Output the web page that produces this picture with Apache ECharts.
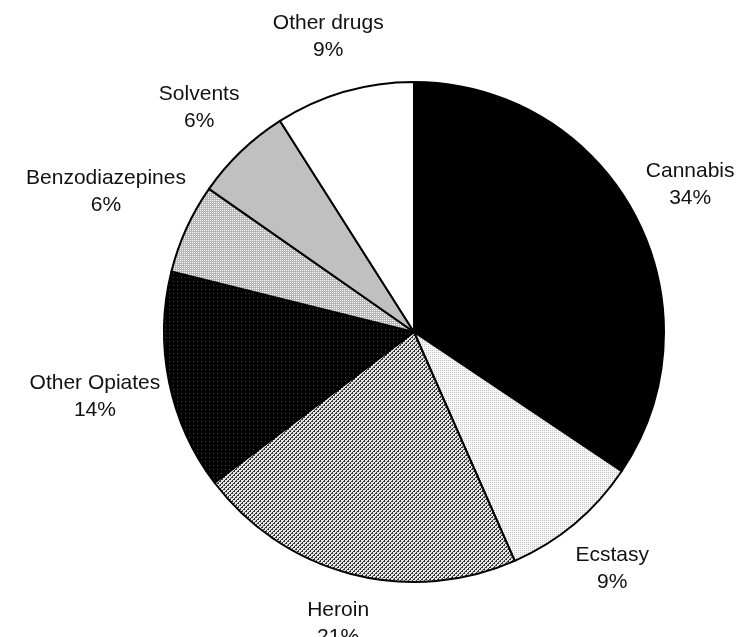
<!DOCTYPE html>
<html>
<head>
<meta charset="utf-8">
<script src="https://cdn.jsdelivr.net/npm/echarts@6/dist/echarts.min.js"></script>
<style>
  html, body { margin: 0; padding: 0; background: #fff; }
  #chart { width: 736px; height: 637px; }
</style>
</head>
<body>
<div id="chart"></div>
<script>
// slices, clockwise from 12 o'clock
const categories = ['Cannabis', 'Ecstasy', 'Heroin', 'Other Opiates', 'Benzodiazepines', 'Solvents', 'Other drugs'];
const shares = [34.4, 9.0, 21.3, 14.2, 5.8, 6.3, 9.0];

const CX = 414, CY = 332, R = 250;

// tiny bitmap fills, like the old monochrome print patterns
function pattern(size, pick) {
  const cv = document.createElement('canvas');
  cv.width = size; cv.height = size;
  const ctx = cv.getContext('2d');
  for (let y = 0; y < size; y++) {
    for (let x = 0; x < size; x++) {
      ctx.fillStyle = pick(x, y);
      ctx.fillRect(x, y, 1, 1);
    }
  }
  return { image: cv, repeat: 'repeat' };
}

const fills = [
  '#000000',
  pattern(2, (x, y) => (x === 0 && y === 0 ? '#c4c4c4' : '#f8f8f8')),
  pattern(4, (x, y) => ((x + y) % 4 < 2 && !(x % 2 === 1 && y % 2 === 0) ? '#333333' : '#e6e6e6')),
  pattern(4, (x, y) => (x === 1 && y === 1 ? '#474747' : '#000000')),
  pattern(2, (x, y) => (x === 0 && y === 0 ? '#ffffff' : '#b6b6b6')),
  '#c0c0c0',
  '#ffffff'
];

const total = shares.reduce((a, b) => a + b, 0);

const chart = echarts.init(document.getElementById('chart'), null, { renderer: 'canvas' });

chart.setOption({
  animation: false,
  backgroundColor: '#ffffff',
  series: [{
    type: 'pie',
    center: [CX, CY],
    radius: R,
    startAngle: 90,
    clockwise: true,
    avoidLabelOverlap: false,
    data: categories.map((name, i) => ({
      name,
      value: shares[i],
      itemStyle: { color: fills[i] }
    })),
    itemStyle: { borderColor: '#000', borderWidth: 2 },
    emphasis: { disabled: true },
    label: {
      show: true,
      position: 'outside',
      formatter: p => p.name + '\n' + Math.round(p.value) + '%',
      fontFamily: 'Liberation Sans, Arial, sans-serif',
      fontSize: 21,
      lineHeight: 27,
      color: '#111',
      align: 'center'
    },
    labelLine: { show: false },
    // centre each label on the slice's mid-angle, just clear of the rim
    labelLayout: params => {
      const i = params.dataIndex;
      let start = 0;
      for (let k = 0; k < i; k++) start += shares[k];
      const mid = (start + shares[i] / 2) / total * Math.PI * 2;
      const s = Math.sin(mid), c = Math.cos(mid);
      const w = params.labelRect.width, h = params.labelRect.height;
      const d = R + 19 + 0.8 * Math.abs(s) * w / 2 + Math.abs(c) * h / 2;
      return {
        x: CX + d * s,
        y: CY - d * c,
        align: 'center',
        verticalAlign: 'middle'
      };
    }
  }]
});
</script>
</body>
</html>
